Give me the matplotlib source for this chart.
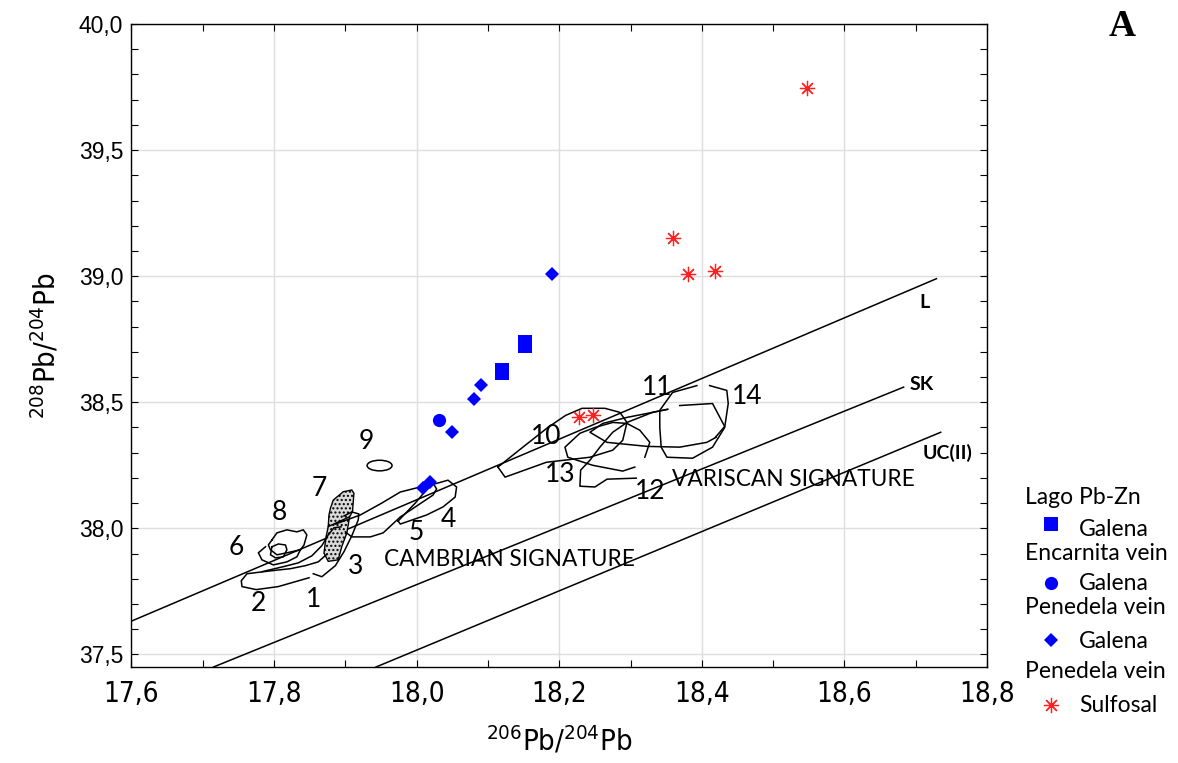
import matplotlib
matplotlib.use("Agg")
import matplotlib.pyplot as plt
from matplotlib import font_manager
from matplotlib.font_manager import FontProperties
from matplotlib.lines import Line2D
from matplotlib.patches import Ellipse, Polygon
from matplotlib.ticker import MultipleLocator, FuncFormatter

# ---- data ----
# Lago Pb-Zn, galena
lago_x = [18.12, 18.12, 18.152, 18.152]
lago_y = [38.618, 38.626, 38.722, 38.737]
# Encarnita vein, galena
encarnita_x = [18.032]
encarnita_y = [38.428]
# Penedela vein, galena
pen_gal_x = [18.009, 18.019, 18.05, 18.08, 18.09, 18.19]
pen_gal_y = [38.158, 38.183, 38.383, 38.512, 38.57, 39.007]
# Penedela vein, sulfosalts
pen_sulf_x = [18.227, 18.247, 18.36, 18.38, 18.419, 18.548]
pen_sulf_y = [38.44, 38.451, 39.15, 39.01, 39.02, 39.747]

# reference growth curves (start / end points)
curve_names = ["L", "SK", "UC(II)"]
curve_x0 = [17.6, 17.715, 17.943]
curve_y0 = [37.632, 37.45, 37.45]
curve_x1 = [18.729, 18.683, 18.735]
curve_y1 = [38.99, 38.56, 38.381]

# field outlines of the literature data (open traces)
c2_x = [17.849, 17.806, 17.775, 17.755, 17.754, 17.762, 17.797, 17.823, 17.844, 17.862, 17.873]
c2_y = [37.804, 37.769, 37.757, 37.769, 37.792, 37.820, 37.832, 37.840, 37.852, 37.867, 37.895]
c1_x = [17.783, 17.813, 17.834, 17.853, 17.867, 17.876, 17.884, 17.894]
c1_y = [37.828, 37.848, 37.863, 37.891, 37.931, 37.974, 38.002, 38.006]
c3_x = [17.855, 17.867, 17.886, 17.898, 17.909, 17.918, 17.919, 17.909, 17.898]
c3_y = [37.820, 37.808, 37.852, 37.907, 37.970, 38.033, 38.057, 38.065, 38.049]
c6_x = [17.788, 17.778, 17.783, 17.799, 17.818, 17.832, 17.837]
c6_y = [37.927, 37.903, 37.875, 37.855, 37.867, 37.887, 37.915]
c8_x = [17.797, 17.804, 17.818, 17.832, 17.841, 17.846, 17.842, 17.837, 17.818, 17.804, 17.795, 17.792, 17.797]
c8_y = [37.954, 37.982, 37.994, 37.986, 37.994, 37.974, 37.934, 37.915, 37.903, 37.895, 37.915, 37.934, 37.954]
c8b_x = [17.797, 17.806, 17.816, 17.818, 17.813, 17.802, 17.795, 17.797]
c8b_y = [37.927, 37.938, 37.934, 37.915, 37.887, 37.883, 37.895, 37.927]
c4_x = [17.974, 17.998, 18.019, 18.044, 18.056, 18.054, 18.037, 18.014, 17.977, 17.974]
c4_y = [38.029, 38.100, 38.171, 38.191, 38.164, 38.124, 38.085, 38.053, 38.017, 38.029]
c5_x = [17.886, 17.921, 17.951, 17.977, 18.005, 18.023, 18.028, 18.023, 17.977, 17.953, 17.935, 17.909, 17.900]
c5_y = [38.017, 38.053, 38.100, 38.144, 38.164, 38.179, 38.156, 38.132, 38.045, 37.982, 37.966, 37.966, 37.986]
c10_x = [18.114, 18.124, 18.182, 18.243, 18.275, 18.289, 18.295, 18.285, 18.264, 18.232, 18.209, 18.184, 18.149, 18.114]
c10_y = [38.243, 38.203, 38.262, 38.282, 38.310, 38.349, 38.420, 38.460, 38.476, 38.476, 38.448, 38.400, 38.322, 38.243]
c11_x = [18.352, 18.331, 18.295, 18.261, 18.243, 18.267, 18.323, 18.369, 18.407, 18.420]
c11_y = [38.472, 38.460, 38.440, 38.416, 38.381, 38.341, 38.325, 38.322, 38.341, 38.361]
c12_x = [18.306, 18.289, 18.247, 18.212, 18.208, 18.229, 18.250, 18.275, 18.295, 18.313, 18.327, 18.320]
c12_y = [38.243, 38.227, 38.250, 38.282, 38.322, 38.377, 38.400, 38.420, 38.416, 38.389, 38.341, 38.282]
c13_x = [18.308, 18.267, 18.250, 18.229, 18.230, 18.243, 18.257, 18.275, 18.295, 18.331, 18.352]
c13_y = [38.199, 38.195, 38.164, 38.167, 38.231, 38.270, 38.322, 38.381, 38.420, 38.460, 38.472]
c14_x = [18.411, 18.435, 18.437, 18.432, 18.415, 18.387, 18.351, 18.343, 18.341, 18.341, 18.359, 18.393]
c14_y = [38.566, 38.547, 38.495, 38.400, 38.322, 38.278, 38.282, 38.322, 38.400, 38.468, 38.539, 38.566]
c14b_x = [18.369, 18.415, 18.432, 18.419]
c14b_y = [38.487, 38.495, 38.404, 38.361]
c7b_x = [17.876, 17.906]
c7b_y = [38.007, 38.046]

# shaded field 7
c7_x = [17.879, 17.883, 17.897, 17.909, 17.912, 17.910, 17.906, 17.902, 17.895, 17.890, 17.876, 17.870, 17.873, 17.876, 17.877]
c7_y = [38.079, 38.112, 38.145, 38.152, 38.139, 38.066, 38.046, 37.981, 37.928, 37.875, 37.869, 37.902, 37.967, 38.007, 38.053]

# field 9 (small ellipse): centre, width, height
c9 = (17.948, 38.249, 0.035, 0.042)

field_labels = ["1", "2", "3", "4", "5", "6", "7", "8", "9", "10", "11", "12", "13", "14"]
label_x = [17.856, 17.778, 17.914, 18.044, 18.000, 17.747, 17.863, 17.807, 17.929, 18.182, 18.337, 18.328, 18.202, 18.463]
label_y = [37.717, 37.701, 37.848, 38.037, 37.982, 37.923, 38.156, 38.061, 38.345, 38.365, 38.558, 38.148, 38.215, 38.523]


def pick(*names):
    for name in names:
        try:
            font_manager.findfont(name, fallback_to_default=False)
            return name
        except Exception:
            continue
    return "DejaVu Sans"


def narrow_props(size):
    # condensed face for the axis numbers, if the system has one
    try:
        path = font_manager.findfont(FontProperties(family="DejaVu Sans", stretch="condensed"),
                                     fallback_to_default=False)
        if "ondensed" in path:
            return FontProperties(fname=path, size=size)
    except Exception:
        pass
    return FontProperties(family=pick("Liberation Sans Narrow", "Liberation Sans"), size=size)


ARIAL = pick("Liberation Sans", "Arimo")
CALIBRI = pick("Lato", "Open Sans")
SERIF = pick("Liberation Serif", "DejaVu Serif")

plt.rcParams["mathtext.default"] = "regular"

fig = plt.figure(figsize=(11.78, 7.63), dpi=100)
ax = fig.add_axes([0.1116, 0.1258, 0.7263, 0.8427])

ax.set_xlim(17.6, 18.8)
ax.set_ylim(37.45, 40.0)
ax.xaxis.set_major_locator(MultipleLocator(0.2))
ax.xaxis.set_minor_locator(MultipleLocator(0.1))
ax.yaxis.set_major_locator(MultipleLocator(0.5))
ax.yaxis.set_minor_locator(MultipleLocator(0.1))
comma = FuncFormatter(lambda v, p: f"{v:.1f}".replace(".", ","))
ax.xaxis.set_major_formatter(comma)
ax.yaxis.set_major_formatter(comma)
ax.grid(True, which="major", color="#dedede", lw=1.0, zorder=0)
ax.tick_params(which="both", direction="in", top=True, right=True, length=5, width=0.8, colors="black")
ax.tick_params(axis="x", pad=9)
ax.tick_params(axis="y", pad=6)
tick_fp = narrow_props(20)
for lab in ax.get_xticklabels():
    lab.set_fontproperties(tick_fp)
for lab in ax.get_yticklabels():
    lab.set_fontfamily(ARIAL)
    lab.set_fontsize(16.5)
for sp in ax.spines.values():
    sp.set_linewidth(1.0)

# growth curves
for name, x0, y0, x1, y1 in zip(curve_names, curve_x0, curve_y0, curve_x1, curve_y1):
    ax.plot([x0, x1], [y0, y1], color="black", lw=1.1, zorder=2)
ax.text(18.712, 38.897, "L", fontsize=14, fontweight="bold", family=CALIBRI, ha="center", va="center")
ax.text(18.708, 38.57, "SK", fontsize=14, fontweight="bold", family=CALIBRI, ha="center", va="center")
ax.text(18.744, 38.298, "UC(II)", fontsize=14, fontweight="bold", family=CALIBRI, ha="center", va="center")

# literature fields
ax.add_patch(Polygon(list(zip(c7_x, c7_y)), closed=True, facecolor="#dadada", edgecolor="black",
                     lw=1.0, hatch="....", zorder=3))
ax.plot(c7b_x, c7b_y, color="black", lw=1.0, zorder=3)
traces = [(c1_x, c1_y), (c2_x, c2_y), (c3_x, c3_y), (c4_x, c4_y), (c5_x, c5_y), (c6_x, c6_y),
          (c8_x, c8_y), (c8b_x, c8b_y), (c10_x, c10_y), (c11_x, c11_y), (c12_x, c12_y),
          (c13_x, c13_y), (c14_x, c14_y), (c14b_x, c14b_y)]
for tx, ty in traces:
    ax.plot(tx, ty, color="black", lw=1.1, zorder=3)
ax.add_patch(Ellipse((c9[0], c9[1]), c9[2], c9[3], fill=False, edgecolor="black", lw=1.1, zorder=3))

for t, x, y in zip(field_labels, label_x, label_y):
    ax.text(x, y, t, fontsize=19, family=CALIBRI, ha="center", va="center", zorder=4)
ax.text(17.954, 37.875, "CAMBRIAN SIGNATURE", fontsize=16.3, family=CALIBRI, ha="left", va="center", zorder=4)
ax.text(18.358, 38.195, "VARISCAN SIGNATURE", fontsize=16.3, family=CALIBRI, ha="left", va="center", zorder=4)

# samples
blue = "#0000ff"
red = "#ff2020"
ax.plot(lago_x, lago_y, "s", color=blue, ms=9.5, mew=0, zorder=5)
ax.plot(encarnita_x, encarnita_y, "o", color=blue, ms=9.5, mew=0, zorder=5)
ax.plot(pen_gal_x, pen_gal_y, "D", color=blue, ms=6.8, mew=0, zorder=5)
ax.plot(pen_sulf_x, pen_sulf_y, marker=(8, 2, 0), ls="none", color=red, ms=11, mew=0.9, zorder=5)

ax.set_xlabel(r"$^{206}$Pb/$^{204}$Pb", fontproperties=narrow_props(21), labelpad=12)
ax.set_ylabel(r"$^{208}$Pb/$^{204}$Pb", fontproperties=narrow_props(21), labelpad=12)

fig.text(1122 / 1178, 1 - 27 / 763, "A", family=SERIF, fontweight="bold", fontsize=27, ha="center", va="center")

# legend (drawn by hand to match the stacked layout)
W, H = 1178.0, 763.0
headers = [("Lago Pb-Zn", 497), ("Encarnita vein", 553), ("Penedela vein", 607), ("Penedela vein", 672)]
for txt, py in headers:
    fig.text(1025 / W, 1 - py / H, txt, family=CALIBRI, fontsize=16.5, ha="left", va="center")
entries = [("s", 9.5, 524, "Galena", 530), ("o", 9.5, 583, "Galena", 584),
           ("D", 6.8, 640, "Galena", 641), ((8, 2, 0), 11, 705, "Sulfosal", 705)]
for mk, ms, py, txt, ty in entries:
    col = red if txt == "Sulfosal" else blue
    fig.add_artist(Line2D([1051 / W], [1 - py / H], marker=mk, ms=ms, color=col, mew=0.9 if txt == "Sulfosal" else 0,
                          ls="none", transform=fig.transFigure))
    fig.text(1079 / W, 1 - ty / H, txt, family=CALIBRI, fontsize=16.5, ha="left", va="center")

fig.savefig("out.png", dpi=100)
